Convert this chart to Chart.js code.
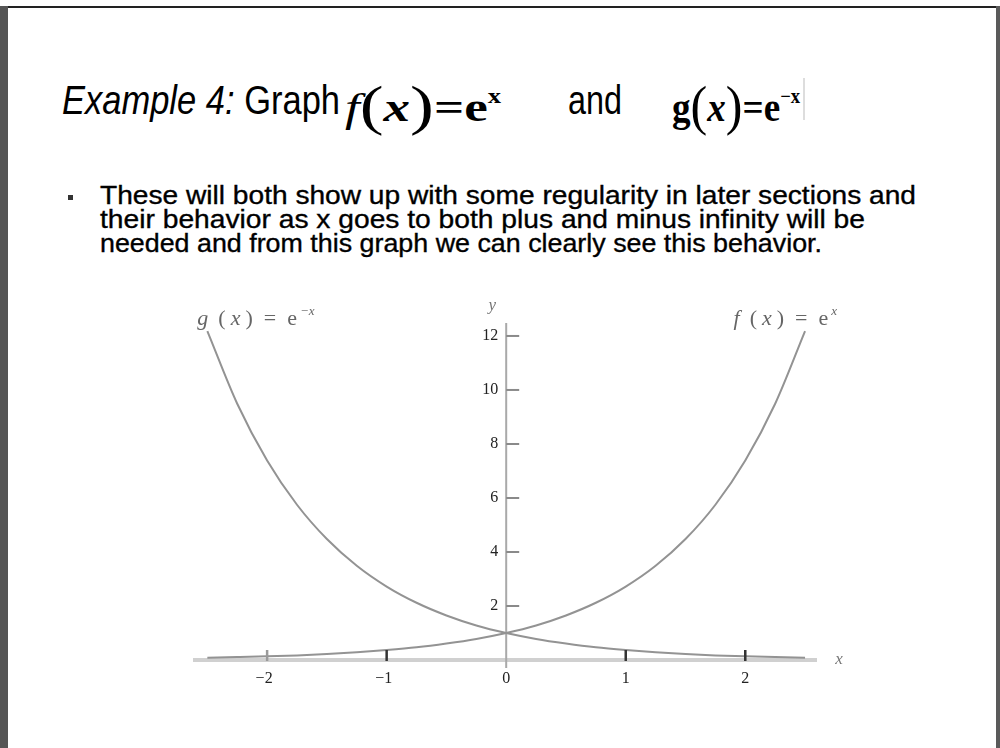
<!DOCTYPE html>
<html>
<head>
<meta charset="utf-8">
<script src="https://cdn.jsdelivr.net/npm/chart.js@4"></script>
<style>
  html, body { margin: 0; padding: 0; background: #fff; }
  #slide { position: relative; width: 1000px; height: 748px; overflow: hidden; background: #fff; }
  .bar { position: absolute; }
  .txt { position: absolute; white-space: nowrap; transform-origin: 0 0; color: #000; }
  .sans { font-family: "Liberation Sans", Arial, sans-serif; }
  .serif { font-family: "Liberation Serif", "Times New Roman", serif; }
  .body { font-size: 26px; -webkit-text-stroke: 0.35px #000; }
  .paren { font-size: 1.35em; font-weight: normal; position: relative; top: 0.05em; }
  sup { font-size: 0.5em; vertical-align: 0.9em; }
  #chart { position: absolute; left: 0; top: 0; }
</style>
</head>
<body>
<div id="slide">
  <div class="bar" style="left:0;top:6px;width:1000px;height:2px;background:#222"></div>
  <div class="bar" style="left:0;top:6px;width:8px;height:742px;background:#555"></div>
  <div class="bar" style="left:996px;top:6px;width:4px;height:742px;background:#5a5a5a"></div>

  <div class="txt sans" data-w="278" style="left:62px;top:78px;font-size:40px;"><i>Example 4:</i> Graph</div>
  <div class="txt serif" data-w="156" style="left:345px;top:72px;font-size:40px;font-weight:bold;"><i style="font-weight:normal">f</i><span class="paren">(</span><i>x</i><span class="paren">)</span>=<span>e</span><sup>x</sup></div>
  <div class="txt sans" data-w="54" style="left:568px;top:78px;font-size:40px;">and</div>
  <div class="txt serif" data-w="128" style="left:672px;top:72px;font-size:40px;font-weight:bold;"><span>g</span><span class="paren">(</span><i>x</i><span class="paren">)</span>=<span>e</span><sup>−x</sup></div>
  <div class="bar" style="left:803px;top:78px;width:2px;height:42px;background:#ddd"></div>

  <div class="bar" style="left:68px;top:195px;width:5px;height:5px;background:#333"></div>
  <div class="txt sans body" data-w="816" style="left:100px;top:180px;">These will both show up with some regularity in later sections and</div>
  <div class="txt sans body" data-w="765" style="left:100px;top:204px;">their behavior as x goes to both plus and minus infinity will be</div>
  <div class="txt sans body" data-w="722" style="left:100px;top:228px;">needed and from this graph we can clearly see this behavior.</div>

  <canvas id="chart" width="1000" height="748"></canvas>
</div>
<script>
// sample points
const xs = [-2.5, -2.25, -2, -1.75, -1.5, -1.25, -1, -0.75, -0.5, -0.25, 0, 0.25, 0.5, 0.75, 1, 1.25, 1.5, 1.75, 2, 2.25, 2.5];
const fVals = [0.08, 0.11, 0.14, 0.17, 0.22, 0.29, 0.37, 0.47, 0.61, 0.78, 1, 1.28, 1.65, 2.12, 2.72, 3.49, 4.48, 5.75, 7.39, 9.49, 12.18];
const gVals = [12.18, 9.49, 7.39, 5.75, 4.48, 3.49, 2.72, 2.12, 1.65, 1.28, 1, 0.78, 0.61, 0.47, 0.37, 0.29, 0.22, 0.17, 0.14, 0.11, 0.08];
const xTicks = [-2, -1, 0, 1, 2];
const xTickLabels = ['−2', '−1', '0', '1', '2'];
const yTicks = [2, 4, 6, 8, 10, 12];
const yTickLabels = ['2', '4', '6', '8', '10', '12'];

// squeeze each text line to its width
document.querySelectorAll('[data-w]').forEach(el => {
  const w = el.getBoundingClientRect().width;
  el.style.transform = `scaleX(${Number(el.dataset.w) / w})`;
});

const curveColor = '#939393';

// "name (x) = e" with a raised exponent, loosely spaced; returns its width
function curveName(ctx, name, exp, left, base) {
  let cx = left;
  const parts = [[name, 'italic', 10], ['(', '', 5], ['x', 'italic', 5], [')', '', 11], ['=', '', 11], ['e', '', 3]];
  parts.forEach(([t, st, gap]) => {
    ctx.font = `${st} 22px "Liberation Serif", serif`;
    ctx.fillText(t, cx, base);
    cx += ctx.measureText(t).width + gap;
  });
  ctx.font = 'italic 13px "Liberation Serif", serif';
  ctx.fillText(exp, cx, base - 10);
  return cx + ctx.measureText(exp).width - left;
}

// axes through the origin, drawn from the chart's own scales
const originAxes = {
  id: 'originAxes',
  beforeDatasetsDraw(chart) {
    const { ctx, scales: { x, y }, chartArea } = chart;
    const x0 = x.getPixelForValue(0), y0 = y.getPixelForValue(0);
    ctx.save();
    // x axis
    ctx.strokeStyle = '#d0d0d0';
    ctx.lineWidth = 4;
    ctx.beginPath();
    ctx.moveTo(chartArea.left, y0);
    ctx.lineTo(chartArea.right, y0);
    ctx.stroke();
    // y axis
    ctx.strokeStyle = '#a9a9a9';
    ctx.lineWidth = 2;
    ctx.beginPath();
    ctx.moveTo(x0, chartArea.top);
    ctx.lineTo(x0, y0 + 8);
    ctx.stroke();
    // y ticks point right
    ctx.strokeStyle = '#8a8a8a';
    yTicks.forEach(v => {
      const py = y.getPixelForValue(v);
      ctx.beginPath();
      ctx.moveTo(x0, py);
      ctx.lineTo(x0 + 13, py);
      ctx.stroke();
    });
    ctx.restore();
  },
  afterDatasetsDraw(chart) {
    const { ctx, scales: { x, y } } = chart;
    const x0 = x.getPixelForValue(0), y0 = y.getPixelForValue(0);
    ctx.save();
    // x ticks point up
    ctx.lineWidth = 2.5;
    xTicks.forEach(v => {
      if (v === 0) return;
      const px = x.getPixelForValue(v);
      ctx.strokeStyle = v === -2 ? '#9a9a9a' : '#333';
      ctx.beginPath();
      ctx.moveTo(px, y0 + 1);
      ctx.lineTo(px, y0 - 10);
      ctx.stroke();
    });
    ctx.font = '16px "Liberation Serif", serif';
    ctx.fillStyle = '#222';
    ctx.textAlign = 'center';
    ctx.textBaseline = 'middle';
    xTicks.forEach((v, i) => {
      ctx.fillText(xTickLabels[i], x.getPixelForValue(v) - (v < 0 ? 3 : 0), y0 + 19);
    });
    ctx.textAlign = 'right';
    yTicks.forEach((v, i) => {
      ctx.fillText(yTickLabels[i], x0 - 8, y.getPixelForValue(v));
    });
    // axis names
    ctx.fillStyle = '#777';
    ctx.font = 'italic 17px "Liberation Serif", serif';
    ctx.textAlign = 'center';
    ctx.fillText('y', x0 - 14, y.getPixelForValue(12) - 30);
    ctx.fillText('x', x.getPixelForValue(2.6) + 22, y0);
    // curve names at the top ends
    ctx.fillStyle = '#666';
    ctx.textAlign = 'left';
    ctx.textBaseline = 'alphabetic';
    const ly = y.getPixelForValue(12.18) - 6;
    curveName(ctx, 'g', '−x', x.getPixelForValue(-2.5) - 10, ly);
    // right label ends just past the top of f
    ctx.globalAlpha = 0;
    const w = curveName(ctx, 'f', 'x', 0, ly);
    ctx.globalAlpha = 1;
    curveName(ctx, 'f', 'x', x.getPixelForValue(2.5) + 32 - w, ly);
    ctx.restore();
  }
};

new Chart(document.getElementById('chart'), {
  type: 'line',
  data: {
    datasets: [
      {
        label: 'f(x) = e^x',
        data: xs.map((v, i) => ({ x: v, y: fVals[i] })),
        borderColor: curveColor,
        borderWidth: 2,
        pointRadius: 0,
        cubicInterpolationMode: 'monotone',
        fill: false
      },
      {
        label: 'g(x) = e^-x',
        data: xs.map((v, i) => ({ x: v, y: gVals[i] })),
        borderColor: curveColor,
        borderWidth: 2,
        pointRadius: 0,
        cubicInterpolationMode: 'monotone',
        fill: false
      }
    ]
  },
  options: {
    responsive: false,
    animation: false,
    layout: { padding: { left: 193, right: 183, top: 323, bottom: 88 } },
    plugins: { legend: { display: false }, tooltip: { enabled: false } },
    scales: {
      x: { type: 'linear', min: -2.62, max: 2.6, display: false },
      y: { type: 'linear', min: 0, max: 12.48, display: false }
    }
  },
  plugins: [originAxes]
});
</script>
</body>
</html>
